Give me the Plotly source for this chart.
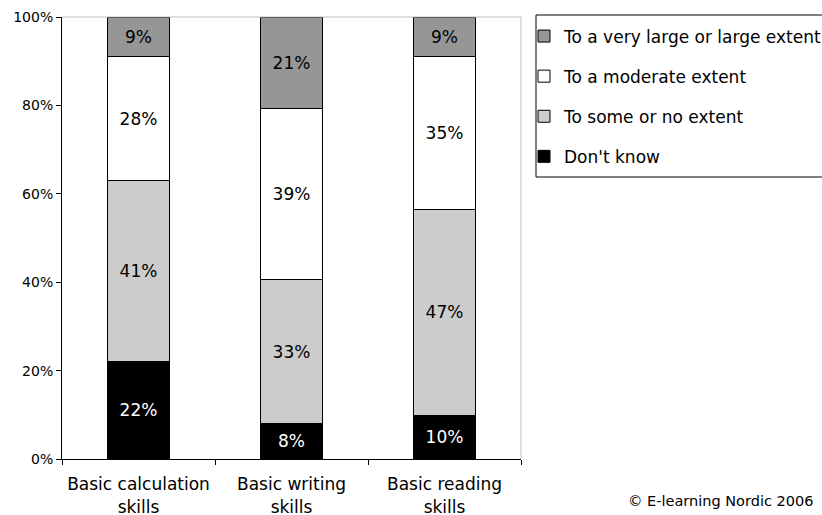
import plotly.graph_objects as go

categories = ["Basic calculation<br>skills", "Basic writing<br>skills", "Basic reading<br>skills"]

dont_know = [22, 8, 10]
some_or_no = [41, 33, 47]
moderate = [28, 39, 35]
very_large = [9, 21, 9]

# stacking order bottom -> top, with the legend listing the top segment first
series = [
    ("Don't know", dont_know, "#000000", "#ffffff", 4),
    ("To some or no extent", some_or_no, "#cccccc", "#000000", 3),
    ("To a moderate extent", moderate, "#ffffff", "#000000", 2),
    ("To a very large or large extent", very_large, "#969696", "#000000", 1),
]

FONT = "DejaVu Sans, Verdana, sans-serif"
W, H = 822, 515

fig = go.Figure()
for i, (name, vals, color, txtcolor, rank) in enumerate(series):
    fig.add_trace(go.Bar(
        x=categories,
        y=vals,
        name=name,
        legendgroup=f"g{i}",
        legendrank=rank,
        marker=dict(color=color, line=dict(color="#000000", width=1)),
        text=[f"{v}%" for v in vals],
        textposition="inside",
        insidetextanchor="middle",
        textangle=0,
        constraintext="none",
        textfont=dict(family=FONT, size=17, color=txtcolor),
        hoverinfo="skip",
    ))

fig.update_layout(
    barmode="stack",
    barnorm="percent",
    bargap=0.595,
    width=W,
    height=H,
    margin=dict(l=62, r=301, t=17, b=56),
    paper_bgcolor="#ffffff",
    plot_bgcolor="#ffffff",
    font=dict(family=FONT, size=16, color="#000000"),
    showlegend=True,
    legend=dict(
        xref="container", yref="container",
        x=524 / W, y=1 - 18.5 / H, xanchor="left", yanchor="top",
        traceorder="grouped",
        tracegroupgap=15,
        borderwidth=0,
        bgcolor="rgba(0,0,0,0)",
        font=dict(family=FONT, size=17, color="#000000"),
        itemwidth=30,
    ),
    annotations=[dict(
        text="© E-learning Nordic 2006",
        xref="paper", yref="paper", x=1.64, y=-0.095,
        xanchor="right", yanchor="middle",
        showarrow=False,
        font=dict(family=FONT, size=14.5, color="#000000"),
    )],
    shapes=[
        # light frame on the top and right of the plot area
        dict(type="line", xref="paper", yref="paper", x0=0, x1=1, y0=1, y1=1,
             line=dict(color="#bfbfbf", width=1)),
        dict(type="line", xref="paper", yref="paper", x0=1, x1=1, y0=0, y1=1,
             line=dict(color="#bfbfbf", width=1)),
        # legend frame
        dict(type="rect", xref="paper", yref="paper",
             x0=1.0327, x1=1.70, y0=0.638, y1=1.0045,
             line=dict(color="#000000", width=1), fillcolor="rgba(0,0,0,0)",
             layer="below"),
    ],
)

fig.update_xaxes(
    showline=True, linecolor="#000000", linewidth=1,
    ticks="outside", ticklen=5, tickcolor="#000000",
    tickson="boundaries",
    tickangle=0,
    ticklabelstandoff=10,
    automargin=False,
    showgrid=False,
    tickfont=dict(family=FONT, size=17, color="#000000"),
)
fig.update_yaxes(
    range=[0, 100],
    tickvals=[0, 20, 40, 60, 80, 100],
    ticktext=["0%", "20%", "40%", "60%", "80%", "100%"],
    showline=True, linecolor="#000000", linewidth=1,
    ticks="outside", ticklen=5, tickcolor="#000000",
    automargin=False,
    showgrid=False, zeroline=False,
    tickfont=dict(family=FONT, size=14, color="#000000"),
)

fig.write_html("out.html")
